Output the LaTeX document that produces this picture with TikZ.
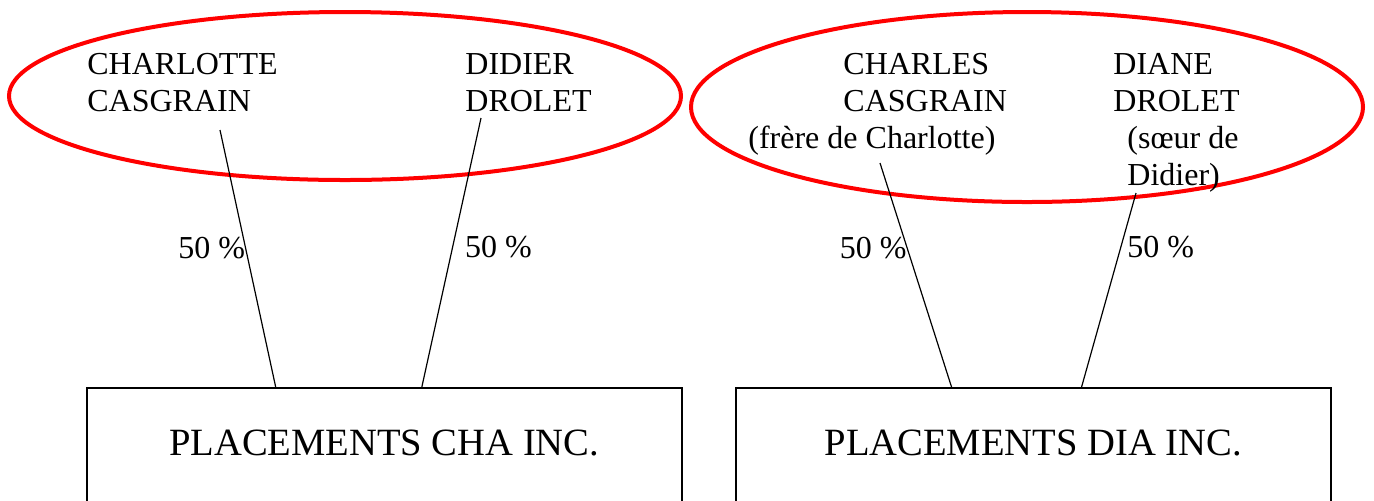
\documentclass[tikz,border=0pt]{standalone}
\usepackage{fontspec}
\setmainfont{Liberation Serif}
\usetikzlibrary{shapes.geometric}
\usetikzlibrary{calc}

\begin{document}
\begin{tikzpicture}[x=0.5pt,y=-0.5pt,
    person/.style={align=left,inner sep=0pt,anchor=base west,font=\fontsize{16}{18.5}\selectfont},
    pct/.style={inner sep=0pt,font=\fontsize{16}{18.5}\selectfont},
    family/.style={ellipse,draw=red,line width=2pt,inner sep=0pt},
    company/.style={rectangle,draw,line width=0.75pt,minimum width=297.5pt,minimum height=60pt,text depth=5pt,anchor=north west,font=\fontsize{19.3}{22}\selectfont},
    own/.style={line width=0.6pt}]
  \useasboundingbox (0,0) rectangle (1374,500);
  \node[family,minimum width=336pt,minimum height=84pt] (fam1) at (345,96) {};
  \node[family,minimum width=336pt,minimum height=95pt] (fam2) at (1027,107) {};

  \node[person] (charlotte) at (87,111) {CHARLOTTE\\CASGRAIN};
  \node[person] (didier) at (465,111) {DIDIER\\DROLET};
  \node[person] (charles) at (843,111) {CHARLES\\CASGRAIN};
  \node[person] (charlesnote) at (748,148) {(frère de Charlotte)};
  \node[person] (diane) at (1113,111) {DIANE\\DROLET};
  \node[person] (dianenote) at (1127,185) {(sœur de\\Didier)};

  \node[company] (cha) at (86,387) {PLACEMENTS CHA INC.};
  \node[company] (dia) at (735,387) {PLACEMENTS DIA INC.};

  \coordinate (t1) at (220,130);
  \coordinate (t2) at (481,118);
  \coordinate (t3) at (880,163);
  \coordinate (t4) at (1136,193);

  \draw[own] (t1) -- node[pct,pos=0.46,left] {50 \%} ($(cha.north west)!0.318!(cha.north east)$);
  \draw[own] (t2) -- node[pct,pos=0.48,right,xshift=6pt] {50 \%} ($(cha.north west)!0.563!(cha.north east)$);
  \draw[own] (t3) -- node[pct,pos=0.38,left] {50 \%} ($(dia.north west)!0.363!(dia.north east)$);
  \draw[own] (t4) -- node[pct,pos=0.28,right,xshift=3pt] {50 \%} ($(dia.north west)!0.581!(dia.north east)$);
\end{tikzpicture}
\end{document}
